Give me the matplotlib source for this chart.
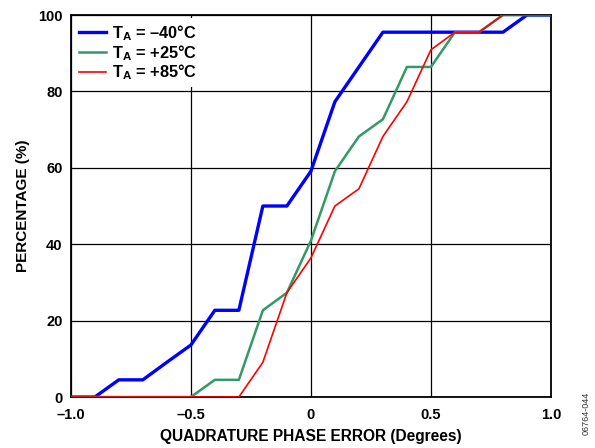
import matplotlib
matplotlib.use("Agg")
import matplotlib.pyplot as plt

plt.rcParams["font.family"] = ["Liberation Sans", "DejaVu Sans"]
plt.rcParams["font.weight"] = "bold"
plt.rcParams["mathtext.fontset"] = "custom"
plt.rcParams["mathtext.rm"] = "Liberation Sans:bold"
plt.rcParams["mathtext.bf"] = "Liberation Sans:bold"

phase_error = [-1.0, -0.9, -0.8, -0.7, -0.6, -0.5, -0.4, -0.3, -0.2, -0.1, 0.0,
               0.1, 0.2, 0.3, 0.4, 0.5, 0.6, 0.7, 0.8, 0.9, 1.0]
pct_m40 = [0, 0, 4.5, 4.5, 9.1, 13.6, 22.7, 22.7, 50.0, 50.0, 59.1,
           77.3, 86.4, 95.5, 95.5, 95.5, 95.5, 95.5, 95.5, 100, 100]
pct_p25 = [0, 0, 0, 0, 0, 0, 4.5, 4.5, 22.7, 27.3, 40.9,
           59.1, 68.2, 72.7, 86.4, 86.4, 95.5, 95.5, 100, 100, 100]
pct_p85 = [0, 0, 0, 0, 0, 0, 0, 0, 9.1, 27.3, 36.4,
           50.0, 54.5, 68.2, 77.3, 90.9, 95.5, 95.5, 100, 100, 100]

labels = ["$\\mathregular{T_A}$ = –40°C", "$\\mathregular{T_A}$ = +25°C", "$\\mathregular{T_A}$ = +85°C"]
x_ticks = [-1.0, -0.5, 0, 0.5, 1.0]
x_ticklabels = ["–1.0", "–0.5", "0", "0.5", "1.0"]
y_ticks = [0, 20, 40, 60, 80, 100]

fig = plt.figure(figsize=(5.95, 4.48), dpi=100)
ax = fig.add_axes([0.119, 0.1138, 0.807, 0.8527])

ax.plot(phase_error, pct_m40, color="#0000FF", lw=2.4, label=labels[0], zorder=3)
ax.plot(phase_error, pct_p25, color="#339966", lw=1.8, label=labels[1], zorder=3)
ax.plot(phase_error, pct_p85, color="#FF0000", lw=1.2, label=labels[2], zorder=4)

ax.set_xlim(-1.0, 1.0)
ax.set_ylim(0, 100)
ax.set_xticks(x_ticks)
ax.set_xticklabels(x_ticklabels)
ax.set_yticks(y_ticks)
ax.tick_params(length=0, labelsize=10.5)
ax.tick_params(axis="x", pad=8)
ax.tick_params(axis="y", pad=6)
ax.grid(True, color="black", lw=0.9)
for s in ax.spines.values():
    s.set_linewidth(1.3)

ax.set_xlabel("QUADRATURE PHASE ERROR (Degrees)", fontsize=11.2, fontweight="bold", labelpad=5)
ax.set_ylabel("PERCENTAGE (%)", fontsize=11, fontweight="bold", labelpad=6)

leg = ax.legend(loc="upper left", frameon=True, fontsize=11.8, handlelength=1.65,
                labelspacing=0.0, borderaxespad=0.2, borderpad=0.3, handletextpad=0.35)
leg.get_frame().set_edgecolor("none")
leg.get_frame().set_facecolor("white")
leg.get_frame().set_alpha(1)

fig.text(0.985, 0.03, "06764-044", rotation=90, fontsize=6.5, fontweight="normal",
         color="#333333", ha="center", va="bottom")

fig.savefig("out.png", dpi=100)
